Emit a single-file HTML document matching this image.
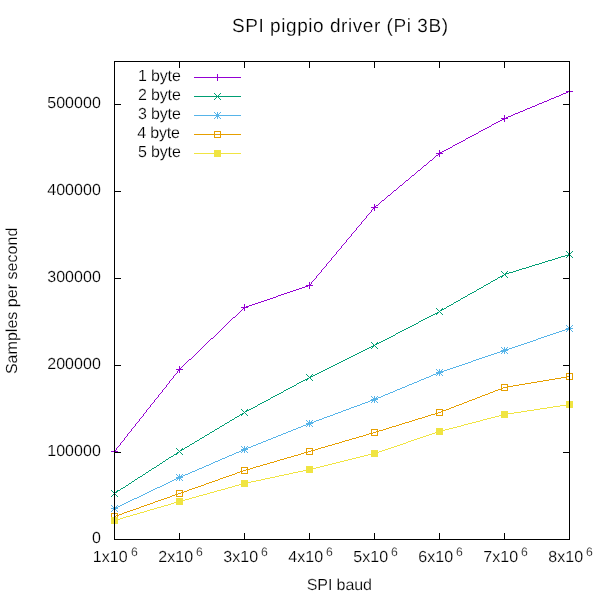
<!DOCTYPE html>
<html lang="en"><head><meta charset="utf-8"><title>SPI pigpio driver (Pi 3B)</title>
<style>
html,body{margin:0;padding:0;background:#fff;width:600px;height:600px;overflow:hidden}
svg{display:block}
text{font-family:"Liberation Sans",sans-serif;fill:#000;font-size:16px;text-rendering:geometricPrecision;stroke:#fff;stroke-width:0.18px}
.d{letter-spacing:0.07px}
.l{letter-spacing:0}
.t{font-size:19px}
.s{font-size:12.2px}
</style></head><body>
<svg width="600" height="600" viewBox="0 0 600 600">
<rect width="600" height="600" fill="#fff"/>
<text class="t" x="232" y="31.6" textLength="216" lengthAdjust="spacing">SPI pigpio driver (Pi 3B)</text>
<text x="306.7" y="590" textLength="65.3" lengthAdjust="spacing">SPI baud</text>
<text transform="translate(17,374.1) rotate(-90)" textLength="146.4" lengthAdjust="spacing">Samples per second</text>
<text class="d" x="101" y="543" text-anchor="end">0</text>
<text class="d" x="101" y="456" text-anchor="end">100000</text>
<text class="d" x="101" y="369" text-anchor="end">200000</text>
<text class="d" x="101" y="282" text-anchor="end">300000</text>
<text class="d" x="101" y="195" text-anchor="end">400000</text>
<text class="d" x="101" y="108" text-anchor="end">500000</text>
<text class="d" x="92.8" y="562">1x10</text><text class="s" x="131" y="556">6</text>
<text class="d" x="158.2" y="562">2x10</text><text class="s" x="196" y="556">6</text>
<text class="d" x="223.2" y="562">3x10</text><text class="s" x="261" y="556">6</text>
<text class="d" x="288.2" y="562">4x10</text><text class="s" x="326" y="556">6</text>
<text class="d" x="353.2" y="562">5x10</text><text class="s" x="391" y="556">6</text>
<text class="d" x="418.2" y="562">6x10</text><text class="s" x="456" y="556">6</text>
<text class="d" x="483.2" y="562">7x10</text><text class="s" x="521" y="556">6</text>
<text class="d" x="548.2" y="562">8x10</text><text class="s" x="586" y="556">6</text>
<g shape-rendering="crispEdges">
<text class="l" x="138" y="81" textLength="42.8" lengthAdjust="spacing">1 byte</text>
<rect x="194" y="77" width="47" height="1" fill="#9400D3"/><rect x="214" y="77" width="7" height="1" fill="#9400D3"/><rect x="217" y="74" width="1" height="7" fill="#9400D3"/>
<path d="M568 91h2v1h-2zM566 92h2v1h-2zM563 93h3v1h-3zM561 94h2v1h-2zM559 95h2v1h-2zM556 96h3v1h-3zM554 97h2v1h-2zM551 98h3v1h-3zM549 99h2v1h-2zM547 100h2v1h-2zM544 101h3v1h-3zM542 102h2v1h-2zM539 103h3v1h-3zM537 104h2v1h-2zM535 105h2v1h-2zM532 106h3v1h-3zM530 107h2v1h-2zM527 108h3v1h-3zM525 109h2v1h-2zM523 110h2v1h-2zM520 111h3v1h-3zM518 112h2v1h-2zM515 113h3v1h-3zM513 114h2v1h-2zM511 115h2v1h-2zM508 116h3v1h-3zM506 117h2v1h-2zM504 118h2v1h-2zM502 119h2v1h-2zM500 120h2v1h-2zM498 121h2v1h-2zM496 122h2v1h-2zM494 123h2v1h-2zM492 124h2v1h-2zM491 125h1v1h-1zM489 126h2v1h-2zM487 127h2v1h-2zM485 128h2v1h-2zM483 129h2v1h-2zM481 130h2v1h-2zM479 131h2v1h-2zM478 132h1v1h-1zM476 133h2v1h-2zM474 134h2v1h-2zM472 135h2v1h-2zM470 136h2v1h-2zM468 137h2v1h-2zM466 138h2v1h-2zM465 139h1v1h-1zM463 140h2v1h-2zM461 141h2v1h-2zM459 142h2v1h-2zM457 143h2v1h-2zM455 144h2v1h-2zM453 145h2v1h-2zM452 146h1v1h-1zM450 147h2v1h-2zM448 148h2v1h-2zM446 149h2v1h-2zM444 150h2v1h-2zM442 151h2v1h-2zM440 152h2v1h-2zM439 153h1v1h-1zM438 154h1v1h-1zM436 155h2v1h-2zM435 156h1v1h-1zM434 157h1v1h-1zM433 158h1v1h-1zM432 159h1v1h-1zM430 160h2v1h-2zM429 161h1v1h-1zM428 162h1v1h-1zM427 163h1v1h-1zM426 164h1v1h-1zM424 165h2v1h-2zM423 166h1v1h-1zM422 167h1v1h-1zM421 168h1v1h-1zM420 169h1v1h-1zM418 170h2v1h-2zM417 171h1v1h-1zM416 172h1v1h-1zM415 173h1v1h-1zM414 174h1v1h-1zM412 175h2v1h-2zM411 176h1v1h-1zM410 177h1v1h-1zM409 178h1v1h-1zM408 179h1v1h-1zM406 180h2v1h-2zM405 181h1v1h-1zM404 182h1v1h-1zM403 183h1v1h-1zM402 184h1v1h-1zM400 185h2v1h-2zM399 186h1v1h-1zM398 187h1v1h-1zM397 188h1v1h-1zM396 189h1v1h-1zM394 190h2v1h-2zM393 191h1v1h-1zM392 192h1v1h-1zM391 193h1v1h-1zM390 194h1v1h-1zM388 195h2v1h-2zM387 196h1v1h-1zM386 197h1v1h-1zM385 198h1v1h-1zM384 199h1v1h-1zM382 200h2v1h-2zM381 201h1v1h-1zM380 202h1v1h-1zM379 203h1v1h-1zM378 204h1v1h-1zM376 205h2v1h-2zM375 206h1v1h-1zM374 207h1v1h-1zM373 208h1v1h-1zM372 209h1v1h-1zM371 210h1v2h-1zM370 212h1v1h-1zM369 213h1v1h-1zM368 214h1v1h-1zM367 215h1v1h-1zM366 216h1v2h-1zM365 218h1v1h-1zM364 219h1v1h-1zM363 220h1v1h-1zM362 221h1v1h-1zM361 222h1v2h-1zM360 224h1v1h-1zM359 225h1v1h-1zM358 226h1v1h-1zM357 227h1v1h-1zM356 228h1v2h-1zM355 230h1v1h-1zM354 231h1v1h-1zM353 232h1v1h-1zM352 233h1v1h-1zM351 234h1v2h-1zM350 236h1v1h-1zM349 237h1v1h-1zM348 238h1v1h-1zM347 239h1v1h-1zM346 240h1v2h-1zM345 242h1v1h-1zM344 243h1v1h-1zM343 244h1v1h-1zM342 245h1v1h-1zM341 246h1v2h-1zM340 248h1v1h-1zM339 249h1v1h-1zM338 250h1v1h-1zM337 251h1v1h-1zM336 252h1v2h-1zM335 254h1v1h-1zM334 255h1v1h-1zM333 256h1v1h-1zM332 257h1v1h-1zM331 258h1v2h-1zM330 260h1v1h-1zM329 261h1v1h-1zM328 262h1v1h-1zM327 263h1v1h-1zM326 264h1v2h-1zM325 266h1v1h-1zM324 267h1v1h-1zM323 268h1v1h-1zM322 269h1v1h-1zM321 270h1v2h-1zM320 272h1v1h-1zM319 273h1v1h-1zM318 274h1v1h-1zM317 275h1v1h-1zM316 276h1v2h-1zM315 278h1v1h-1zM314 279h1v1h-1zM313 280h1v1h-1zM312 281h1v1h-1zM311 282h1v2h-1zM310 284h1v1h-1zM308 285h2v1h-2zM305 286h3v1h-3zM302 287h3v1h-3zM299 288h3v1h-3zM296 289h3v1h-3zM293 290h3v1h-3zM290 291h3v1h-3zM287 292h3v1h-3zM284 293h3v1h-3zM281 294h3v1h-3zM278 295h3v1h-3zM276 296h2v1h-2zM273 297h3v1h-3zM270 298h3v1h-3zM267 299h3v1h-3zM264 300h3v1h-3zM261 301h3v1h-3zM258 302h3v1h-3zM255 303h3v1h-3zM252 304h3v1h-3zM249 305h3v1h-3zM246 306h3v1h-3zM244 307h2v1h-2zM243 308h1v1h-1zM242 309h1v1h-1zM241 310h1v1h-1zM240 311h1v1h-1zM239 312h1v1h-1zM238 313h1v1h-1zM237 314h1v1h-1zM236 315h1v1h-1zM235 316h1v1h-1zM233 317h2v1h-2zM232 318h1v1h-1zM231 319h1v1h-1zM230 320h1v1h-1zM229 321h1v1h-1zM228 322h1v1h-1zM227 323h1v1h-1zM226 324h1v1h-1zM225 325h1v1h-1zM224 326h1v1h-1zM223 327h1v1h-1zM222 328h1v1h-1zM221 329h1v1h-1zM220 330h1v1h-1zM219 331h1v1h-1zM218 332h1v1h-1zM217 333h1v1h-1zM216 334h1v1h-1zM215 335h1v1h-1zM214 336h1v1h-1zM213 337h1v1h-1zM211 338h2v1h-2zM210 339h1v1h-1zM209 340h1v1h-1zM208 341h1v1h-1zM207 342h1v1h-1zM206 343h1v1h-1zM205 344h1v1h-1zM204 345h1v1h-1zM203 346h1v1h-1zM202 347h1v1h-1zM201 348h1v1h-1zM200 349h1v1h-1zM199 350h1v1h-1zM198 351h1v1h-1zM197 352h1v1h-1zM196 353h1v1h-1zM195 354h1v1h-1zM194 355h1v1h-1zM193 356h1v1h-1zM192 357h1v1h-1zM191 358h1v1h-1zM189 359h2v1h-2zM188 360h1v1h-1zM187 361h1v1h-1zM186 362h1v1h-1zM185 363h1v1h-1zM184 364h1v1h-1zM183 365h1v1h-1zM182 366h1v1h-1zM181 367h1v1h-1zM180 368h1v1h-1zM179 369h1v1h-1zM178 370h1v1h-1zM177 371h1v2h-1zM176 373h1v1h-1zM175 374h1v1h-1zM174 375h1v1h-1zM173 376h1v2h-1zM172 378h1v1h-1zM171 379h1v1h-1zM170 380h1v1h-1zM169 381h1v2h-1zM168 383h1v1h-1zM167 384h1v1h-1zM166 385h1v2h-1zM165 387h1v1h-1zM164 388h1v1h-1zM163 389h1v1h-1zM162 390h1v2h-1zM161 392h1v1h-1zM160 393h1v1h-1zM159 394h1v1h-1zM158 395h1v2h-1zM157 397h1v1h-1zM156 398h1v1h-1zM155 399h1v1h-1zM154 400h1v2h-1zM153 402h1v1h-1zM152 403h1v1h-1zM151 404h1v1h-1zM150 405h1v2h-1zM149 407h1v1h-1zM148 408h1v1h-1zM147 409h1v1h-1zM146 410h1v2h-1zM145 412h1v1h-1zM144 413h1v1h-1zM143 414h1v2h-1zM142 416h1v1h-1zM141 417h1v1h-1zM140 418h1v1h-1zM139 419h1v2h-1zM138 421h1v1h-1zM137 422h1v1h-1zM136 423h1v1h-1zM135 424h1v2h-1zM134 426h1v1h-1zM133 427h1v1h-1zM132 428h1v1h-1zM131 429h1v2h-1zM130 431h1v1h-1zM129 432h1v1h-1zM128 433h1v1h-1zM127 434h1v2h-1zM126 436h1v1h-1zM125 437h1v1h-1zM124 438h1v2h-1zM123 440h1v1h-1zM122 441h1v1h-1zM121 442h1v1h-1zM120 443h1v2h-1zM119 445h1v1h-1zM118 446h1v1h-1zM117 447h1v1h-1zM116 448h1v2h-1zM115 450h1v1h-1zM114 451h1v1h-1z" fill="#9400D3"/>
<rect x="111" y="451" width="7" height="1" fill="#9400D3"/><rect x="114" y="448" width="1" height="7" fill="#9400D3"/><rect x="176" y="369" width="7" height="1" fill="#9400D3"/><rect x="179" y="366" width="1" height="7" fill="#9400D3"/><rect x="241" y="307" width="7" height="1" fill="#9400D3"/><rect x="244" y="304" width="1" height="7" fill="#9400D3"/><rect x="306" y="285" width="7" height="1" fill="#9400D3"/><rect x="309" y="282" width="1" height="7" fill="#9400D3"/><rect x="371" y="207" width="7" height="1" fill="#9400D3"/><rect x="374" y="204" width="1" height="7" fill="#9400D3"/><rect x="436" y="153" width="7" height="1" fill="#9400D3"/><rect x="439" y="150" width="1" height="7" fill="#9400D3"/><rect x="501" y="118" width="7" height="1" fill="#9400D3"/><rect x="504" y="115" width="1" height="7" fill="#9400D3"/><rect x="566" y="91" width="7" height="1" fill="#9400D3"/><rect x="569" y="88" width="1" height="7" fill="#9400D3"/>
<text class="l" x="138" y="100" textLength="42.8" lengthAdjust="spacing">2 byte</text>
<rect x="194" y="96" width="47" height="1" fill="#009E73"/><rect x="214" y="93" width="1" height="1" fill="#009E73"/><rect x="214" y="99" width="1" height="1" fill="#009E73"/><rect x="215" y="94" width="1" height="1" fill="#009E73"/><rect x="215" y="98" width="1" height="1" fill="#009E73"/><rect x="216" y="95" width="1" height="1" fill="#009E73"/><rect x="216" y="97" width="1" height="1" fill="#009E73"/><rect x="217" y="96" width="1" height="1" fill="#009E73"/><rect x="218" y="97" width="1" height="1" fill="#009E73"/><rect x="218" y="95" width="1" height="1" fill="#009E73"/><rect x="219" y="98" width="1" height="1" fill="#009E73"/><rect x="219" y="94" width="1" height="1" fill="#009E73"/><rect x="220" y="99" width="1" height="1" fill="#009E73"/><rect x="220" y="93" width="1" height="1" fill="#009E73"/>
<path d="M568 254h2v1h-2zM565 255h3v1h-3zM561 256h4v1h-4zM558 257h3v1h-3zM555 258h3v1h-3zM552 259h3v1h-3zM548 260h4v1h-4zM545 261h3v1h-3zM542 262h3v1h-3zM539 263h3v1h-3zM535 264h4v1h-4zM532 265h3v1h-3zM529 266h3v1h-3zM526 267h3v1h-3zM522 268h4v1h-4zM519 269h3v1h-3zM516 270h3v1h-3zM513 271h3v1h-3zM509 272h4v1h-4zM506 273h3v1h-3zM504 274h2v1h-2zM502 275h2v1h-2zM500 276h2v1h-2zM498 277h2v1h-2zM497 278h1v1h-1zM495 279h2v1h-2zM493 280h2v1h-2zM491 281h2v1h-2zM490 282h1v1h-1zM488 283h2v1h-2zM486 284h2v1h-2zM484 285h2v1h-2zM483 286h1v1h-1zM481 287h2v1h-2zM479 288h2v1h-2zM477 289h2v1h-2zM476 290h1v1h-1zM474 291h2v1h-2zM472 292h2v1h-2zM470 293h2v1h-2zM468 294h2v1h-2zM467 295h1v1h-1zM465 296h2v1h-2zM463 297h2v1h-2zM461 298h2v1h-2zM460 299h1v1h-1zM458 300h2v1h-2zM456 301h2v1h-2zM454 302h2v1h-2zM453 303h1v1h-1zM451 304h2v1h-2zM449 305h2v1h-2zM447 306h2v1h-2zM446 307h1v1h-1zM444 308h2v1h-2zM442 309h2v1h-2zM440 310h2v1h-2zM439 311h1v1h-1zM437 312h2v1h-2zM435 313h2v1h-2zM433 314h2v1h-2zM431 315h2v1h-2zM429 316h2v1h-2zM427 317h2v1h-2zM425 318h2v1h-2zM423 319h2v1h-2zM421 320h2v1h-2zM419 321h2v1h-2zM418 322h1v1h-1zM416 323h2v1h-2zM414 324h2v1h-2zM412 325h2v1h-2zM410 326h2v1h-2zM408 327h2v1h-2zM406 328h2v1h-2zM404 329h2v1h-2zM402 330h2v1h-2zM400 331h2v1h-2zM398 332h2v1h-2zM396 333h2v1h-2zM395 334h1v1h-1zM393 335h2v1h-2zM391 336h2v1h-2zM389 337h2v1h-2zM387 338h2v1h-2zM385 339h2v1h-2zM383 340h2v1h-2zM381 341h2v1h-2zM379 342h2v1h-2zM377 343h2v1h-2zM375 344h2v1h-2zM373 345h2v1h-2zM371 346h2v1h-2zM369 347h2v1h-2zM367 348h2v1h-2zM365 349h2v1h-2zM363 350h2v1h-2zM361 351h2v1h-2zM359 352h2v1h-2zM357 353h2v1h-2zM355 354h2v1h-2zM353 355h2v1h-2zM351 356h2v1h-2zM349 357h2v1h-2zM347 358h2v1h-2zM345 359h2v1h-2zM343 360h2v1h-2zM341 361h2v1h-2zM339 362h2v1h-2zM337 363h2v1h-2zM335 364h2v1h-2zM333 365h2v1h-2zM331 366h2v1h-2zM329 367h2v1h-2zM327 368h2v1h-2zM325 369h2v1h-2zM323 370h2v1h-2zM321 371h2v1h-2zM319 372h2v1h-2zM317 373h2v1h-2zM315 374h2v1h-2zM313 375h2v1h-2zM311 376h2v1h-2zM309 377h2v1h-2zM307 378h2v1h-2zM305 379h2v1h-2zM303 380h2v1h-2zM301 381h2v1h-2zM299 382h2v1h-2zM297 383h2v1h-2zM296 384h1v1h-1zM294 385h2v1h-2zM292 386h2v1h-2zM290 387h2v1h-2zM288 388h2v1h-2zM286 389h2v1h-2zM284 390h2v1h-2zM283 391h1v1h-1zM281 392h2v1h-2zM279 393h2v1h-2zM277 394h2v1h-2zM275 395h2v1h-2zM273 396h2v1h-2zM271 397h2v1h-2zM270 398h1v1h-1zM268 399h2v1h-2zM266 400h2v1h-2zM264 401h2v1h-2zM262 402h2v1h-2zM260 403h2v1h-2zM258 404h2v1h-2zM257 405h1v1h-1zM255 406h2v1h-2zM253 407h2v1h-2zM251 408h2v1h-2zM249 409h2v1h-2zM247 410h2v1h-2zM245 411h2v1h-2zM244 412h1v1h-1zM242 413h2v1h-2zM240 414h2v1h-2zM239 415h1v1h-1zM237 416h2v1h-2zM235 417h2v1h-2zM234 418h1v1h-1zM232 419h2v1h-2zM230 420h2v1h-2zM229 421h1v1h-1zM227 422h2v1h-2zM225 423h2v1h-2zM224 424h1v1h-1zM222 425h2v1h-2zM220 426h2v1h-2zM219 427h1v1h-1zM217 428h2v1h-2zM215 429h2v1h-2zM214 430h1v1h-1zM212 431h2v1h-2zM210 432h2v1h-2zM209 433h1v1h-1zM207 434h2v1h-2zM205 435h2v1h-2zM204 436h1v1h-1zM202 437h2v1h-2zM200 438h2v1h-2zM199 439h1v1h-1zM197 440h2v1h-2zM195 441h2v1h-2zM194 442h1v1h-1zM192 443h2v1h-2zM190 444h2v1h-2zM189 445h1v1h-1zM187 446h2v1h-2zM185 447h2v1h-2zM184 448h1v1h-1zM182 449h2v1h-2zM180 450h2v1h-2zM179 451h1v1h-1zM177 452h2v1h-2zM176 453h1v1h-1zM174 454h2v1h-2zM173 455h1v1h-1zM171 456h2v1h-2zM169 457h2v1h-2zM168 458h1v1h-1zM166 459h2v1h-2zM165 460h1v1h-1zM163 461h2v1h-2zM162 462h1v1h-1zM160 463h2v1h-2zM159 464h1v1h-1zM157 465h2v1h-2zM156 466h1v1h-1zM154 467h2v1h-2zM152 468h2v1h-2zM151 469h1v1h-1zM149 470h2v1h-2zM148 471h1v1h-1zM146 472h2v1h-2zM145 473h1v1h-1zM143 474h2v1h-2zM142 475h1v1h-1zM140 476h2v1h-2zM138 477h2v1h-2zM137 478h1v1h-1zM135 479h2v1h-2zM134 480h1v1h-1zM132 481h2v1h-2zM131 482h1v1h-1zM129 483h2v1h-2zM128 484h1v1h-1zM126 485h2v1h-2zM125 486h1v1h-1zM123 487h2v1h-2zM121 488h2v1h-2zM120 489h1v1h-1zM118 490h2v1h-2zM117 491h1v1h-1zM115 492h2v1h-2zM114 493h1v1h-1z" fill="#009E73"/>
<rect x="111" y="490" width="1" height="1" fill="#009E73"/><rect x="111" y="496" width="1" height="1" fill="#009E73"/><rect x="112" y="491" width="1" height="1" fill="#009E73"/><rect x="112" y="495" width="1" height="1" fill="#009E73"/><rect x="113" y="492" width="1" height="1" fill="#009E73"/><rect x="113" y="494" width="1" height="1" fill="#009E73"/><rect x="114" y="493" width="1" height="1" fill="#009E73"/><rect x="115" y="494" width="1" height="1" fill="#009E73"/><rect x="115" y="492" width="1" height="1" fill="#009E73"/><rect x="116" y="495" width="1" height="1" fill="#009E73"/><rect x="116" y="491" width="1" height="1" fill="#009E73"/><rect x="117" y="496" width="1" height="1" fill="#009E73"/><rect x="117" y="490" width="1" height="1" fill="#009E73"/><rect x="176" y="448" width="1" height="1" fill="#009E73"/><rect x="176" y="454" width="1" height="1" fill="#009E73"/><rect x="177" y="449" width="1" height="1" fill="#009E73"/><rect x="177" y="453" width="1" height="1" fill="#009E73"/><rect x="178" y="450" width="1" height="1" fill="#009E73"/><rect x="178" y="452" width="1" height="1" fill="#009E73"/><rect x="179" y="451" width="1" height="1" fill="#009E73"/><rect x="180" y="452" width="1" height="1" fill="#009E73"/><rect x="180" y="450" width="1" height="1" fill="#009E73"/><rect x="181" y="453" width="1" height="1" fill="#009E73"/><rect x="181" y="449" width="1" height="1" fill="#009E73"/><rect x="182" y="454" width="1" height="1" fill="#009E73"/><rect x="182" y="448" width="1" height="1" fill="#009E73"/><rect x="241" y="409" width="1" height="1" fill="#009E73"/><rect x="241" y="415" width="1" height="1" fill="#009E73"/><rect x="242" y="410" width="1" height="1" fill="#009E73"/><rect x="242" y="414" width="1" height="1" fill="#009E73"/><rect x="243" y="411" width="1" height="1" fill="#009E73"/><rect x="243" y="413" width="1" height="1" fill="#009E73"/><rect x="244" y="412" width="1" height="1" fill="#009E73"/><rect x="245" y="413" width="1" height="1" fill="#009E73"/><rect x="245" y="411" width="1" height="1" fill="#009E73"/><rect x="246" y="414" width="1" height="1" fill="#009E73"/><rect x="246" y="410" width="1" height="1" fill="#009E73"/><rect x="247" y="415" width="1" height="1" fill="#009E73"/><rect x="247" y="409" width="1" height="1" fill="#009E73"/><rect x="306" y="374" width="1" height="1" fill="#009E73"/><rect x="306" y="380" width="1" height="1" fill="#009E73"/><rect x="307" y="375" width="1" height="1" fill="#009E73"/><rect x="307" y="379" width="1" height="1" fill="#009E73"/><rect x="308" y="376" width="1" height="1" fill="#009E73"/><rect x="308" y="378" width="1" height="1" fill="#009E73"/><rect x="309" y="377" width="1" height="1" fill="#009E73"/><rect x="310" y="378" width="1" height="1" fill="#009E73"/><rect x="310" y="376" width="1" height="1" fill="#009E73"/><rect x="311" y="379" width="1" height="1" fill="#009E73"/><rect x="311" y="375" width="1" height="1" fill="#009E73"/><rect x="312" y="380" width="1" height="1" fill="#009E73"/><rect x="312" y="374" width="1" height="1" fill="#009E73"/><rect x="371" y="342" width="1" height="1" fill="#009E73"/><rect x="371" y="348" width="1" height="1" fill="#009E73"/><rect x="372" y="343" width="1" height="1" fill="#009E73"/><rect x="372" y="347" width="1" height="1" fill="#009E73"/><rect x="373" y="344" width="1" height="1" fill="#009E73"/><rect x="373" y="346" width="1" height="1" fill="#009E73"/><rect x="374" y="345" width="1" height="1" fill="#009E73"/><rect x="375" y="346" width="1" height="1" fill="#009E73"/><rect x="375" y="344" width="1" height="1" fill="#009E73"/><rect x="376" y="347" width="1" height="1" fill="#009E73"/><rect x="376" y="343" width="1" height="1" fill="#009E73"/><rect x="377" y="348" width="1" height="1" fill="#009E73"/><rect x="377" y="342" width="1" height="1" fill="#009E73"/><rect x="436" y="308" width="1" height="1" fill="#009E73"/><rect x="436" y="314" width="1" height="1" fill="#009E73"/><rect x="437" y="309" width="1" height="1" fill="#009E73"/><rect x="437" y="313" width="1" height="1" fill="#009E73"/><rect x="438" y="310" width="1" height="1" fill="#009E73"/><rect x="438" y="312" width="1" height="1" fill="#009E73"/><rect x="439" y="311" width="1" height="1" fill="#009E73"/><rect x="440" y="312" width="1" height="1" fill="#009E73"/><rect x="440" y="310" width="1" height="1" fill="#009E73"/><rect x="441" y="313" width="1" height="1" fill="#009E73"/><rect x="441" y="309" width="1" height="1" fill="#009E73"/><rect x="442" y="314" width="1" height="1" fill="#009E73"/><rect x="442" y="308" width="1" height="1" fill="#009E73"/><rect x="501" y="271" width="1" height="1" fill="#009E73"/><rect x="501" y="277" width="1" height="1" fill="#009E73"/><rect x="502" y="272" width="1" height="1" fill="#009E73"/><rect x="502" y="276" width="1" height="1" fill="#009E73"/><rect x="503" y="273" width="1" height="1" fill="#009E73"/><rect x="503" y="275" width="1" height="1" fill="#009E73"/><rect x="504" y="274" width="1" height="1" fill="#009E73"/><rect x="505" y="275" width="1" height="1" fill="#009E73"/><rect x="505" y="273" width="1" height="1" fill="#009E73"/><rect x="506" y="276" width="1" height="1" fill="#009E73"/><rect x="506" y="272" width="1" height="1" fill="#009E73"/><rect x="507" y="277" width="1" height="1" fill="#009E73"/><rect x="507" y="271" width="1" height="1" fill="#009E73"/><rect x="566" y="251" width="1" height="1" fill="#009E73"/><rect x="566" y="257" width="1" height="1" fill="#009E73"/><rect x="567" y="252" width="1" height="1" fill="#009E73"/><rect x="567" y="256" width="1" height="1" fill="#009E73"/><rect x="568" y="253" width="1" height="1" fill="#009E73"/><rect x="568" y="255" width="1" height="1" fill="#009E73"/><rect x="569" y="254" width="1" height="1" fill="#009E73"/><rect x="570" y="255" width="1" height="1" fill="#009E73"/><rect x="570" y="253" width="1" height="1" fill="#009E73"/><rect x="571" y="256" width="1" height="1" fill="#009E73"/><rect x="571" y="252" width="1" height="1" fill="#009E73"/><rect x="572" y="257" width="1" height="1" fill="#009E73"/><rect x="572" y="251" width="1" height="1" fill="#009E73"/>
<text class="l" x="138" y="119" textLength="42.8" lengthAdjust="spacing">3 byte</text>
<rect x="194" y="115" width="47" height="1" fill="#56B4E9"/><rect x="214" y="115" width="7" height="1" fill="#56B4E9"/><rect x="217" y="112" width="1" height="7" fill="#56B4E9"/><rect x="214" y="112" width="1" height="1" fill="#56B4E9"/><rect x="214" y="118" width="1" height="1" fill="#56B4E9"/><rect x="215" y="113" width="1" height="1" fill="#56B4E9"/><rect x="215" y="117" width="1" height="1" fill="#56B4E9"/><rect x="216" y="114" width="1" height="1" fill="#56B4E9"/><rect x="216" y="116" width="1" height="1" fill="#56B4E9"/><rect x="218" y="116" width="1" height="1" fill="#56B4E9"/><rect x="218" y="114" width="1" height="1" fill="#56B4E9"/><rect x="219" y="117" width="1" height="1" fill="#56B4E9"/><rect x="219" y="113" width="1" height="1" fill="#56B4E9"/><rect x="220" y="118" width="1" height="1" fill="#56B4E9"/><rect x="220" y="112" width="1" height="1" fill="#56B4E9"/>
<path d="M568 328h2v1h-2zM565 329h3v1h-3zM562 330h3v1h-3zM559 331h3v1h-3zM556 332h3v1h-3zM553 333h3v1h-3zM550 334h3v1h-3zM547 335h3v1h-3zM544 336h3v1h-3zM541 337h3v1h-3zM538 338h3v1h-3zM536 339h2v1h-2zM533 340h3v1h-3zM530 341h3v1h-3zM527 342h3v1h-3zM524 343h3v1h-3zM521 344h3v1h-3zM518 345h3v1h-3zM515 346h3v1h-3zM512 347h3v1h-3zM509 348h3v1h-3zM506 349h3v1h-3zM503 350h3v1h-3zM500 351h3v1h-3zM497 352h3v1h-3zM494 353h3v1h-3zM491 354h3v1h-3zM488 355h3v1h-3zM485 356h3v1h-3zM482 357h3v1h-3zM479 358h3v1h-3zM476 359h3v1h-3zM473 360h3v1h-3zM471 361h2v1h-2zM468 362h3v1h-3zM465 363h3v1h-3zM462 364h3v1h-3zM459 365h3v1h-3zM456 366h3v1h-3zM453 367h3v1h-3zM450 368h3v1h-3zM447 369h3v1h-3zM444 370h3v1h-3zM441 371h3v1h-3zM438 372h3v1h-3zM436 373h2v1h-2zM433 374h3v1h-3zM431 375h2v1h-2zM429 376h2v1h-2zM426 377h3v1h-3zM424 378h2v1h-2zM421 379h3v1h-3zM419 380h2v1h-2zM417 381h2v1h-2zM414 382h3v1h-3zM412 383h2v1h-2zM409 384h3v1h-3zM407 385h2v1h-2zM405 386h2v1h-2zM402 387h3v1h-3zM400 388h2v1h-2zM397 389h3v1h-3zM395 390h2v1h-2zM393 391h2v1h-2zM390 392h3v1h-3zM388 393h2v1h-2zM385 394h3v1h-3zM383 395h2v1h-2zM381 396h2v1h-2zM378 397h3v1h-3zM376 398h2v1h-2zM373 399h3v1h-3zM370 400h3v1h-3zM368 401h2v1h-2zM365 402h3v1h-3zM362 403h3v1h-3zM360 404h2v1h-2zM357 405h3v1h-3zM354 406h3v1h-3zM351 407h3v1h-3zM349 408h2v1h-2zM346 409h3v1h-3zM343 410h3v1h-3zM341 411h2v1h-2zM338 412h3v1h-3zM335 413h3v1h-3zM333 414h2v1h-2zM330 415h3v1h-3zM327 416h3v1h-3zM324 417h3v1h-3zM322 418h2v1h-2zM319 419h3v1h-3zM316 420h3v1h-3zM314 421h2v1h-2zM311 422h3v1h-3zM308 423h3v1h-3zM306 424h2v1h-2zM303 425h3v1h-3zM301 426h2v1h-2zM298 427h3v1h-3zM296 428h2v1h-2zM293 429h3v1h-3zM291 430h2v1h-2zM288 431h3v1h-3zM286 432h2v1h-2zM283 433h3v1h-3zM281 434h2v1h-2zM278 435h3v1h-3zM276 436h2v1h-2zM273 437h3v1h-3zM271 438h2v1h-2zM268 439h3v1h-3zM266 440h2v1h-2zM263 441h3v1h-3zM261 442h2v1h-2zM258 443h3v1h-3zM256 444h2v1h-2zM253 445h3v1h-3zM251 446h2v1h-2zM248 447h3v1h-3zM246 448h2v1h-2zM243 449h3v1h-3zM241 450h2v1h-2zM239 451h2v1h-2zM236 452h3v1h-3zM234 453h2v1h-2zM232 454h2v1h-2zM229 455h3v1h-3zM227 456h2v1h-2zM225 457h2v1h-2zM222 458h3v1h-3zM220 459h2v1h-2zM218 460h2v1h-2zM215 461h3v1h-3zM213 462h2v1h-2zM211 463h2v1h-2zM209 464h2v1h-2zM206 465h3v1h-3zM204 466h2v1h-2zM202 467h2v1h-2zM199 468h3v1h-3zM197 469h2v1h-2zM195 470h2v1h-2zM192 471h3v1h-3zM190 472h2v1h-2zM188 473h2v1h-2zM185 474h3v1h-3zM183 475h2v1h-2zM181 476h2v1h-2zM178 477h3v1h-3zM176 478h2v1h-2zM174 479h2v1h-2zM172 480h2v1h-2zM170 481h2v1h-2zM168 482h2v1h-2zM166 483h2v1h-2zM164 484h2v1h-2zM162 485h2v1h-2zM160 486h2v1h-2zM157 487h3v1h-3zM155 488h2v1h-2zM153 489h2v1h-2zM151 490h2v1h-2zM149 491h2v1h-2zM147 492h2v1h-2zM145 493h2v1h-2zM143 494h2v1h-2zM141 495h2v1h-2zM139 496h2v1h-2zM137 497h2v1h-2zM134 498h3v1h-3zM132 499h2v1h-2zM130 500h2v1h-2zM128 501h2v1h-2zM126 502h2v1h-2zM124 503h2v1h-2zM122 504h2v1h-2zM120 505h2v1h-2zM118 506h2v1h-2zM116 507h2v1h-2zM114 508h2v1h-2z" fill="#56B4E9"/>
<rect x="111" y="508" width="7" height="1" fill="#56B4E9"/><rect x="114" y="505" width="1" height="7" fill="#56B4E9"/><rect x="111" y="505" width="1" height="1" fill="#56B4E9"/><rect x="111" y="511" width="1" height="1" fill="#56B4E9"/><rect x="112" y="506" width="1" height="1" fill="#56B4E9"/><rect x="112" y="510" width="1" height="1" fill="#56B4E9"/><rect x="113" y="507" width="1" height="1" fill="#56B4E9"/><rect x="113" y="509" width="1" height="1" fill="#56B4E9"/><rect x="115" y="509" width="1" height="1" fill="#56B4E9"/><rect x="115" y="507" width="1" height="1" fill="#56B4E9"/><rect x="116" y="510" width="1" height="1" fill="#56B4E9"/><rect x="116" y="506" width="1" height="1" fill="#56B4E9"/><rect x="117" y="511" width="1" height="1" fill="#56B4E9"/><rect x="117" y="505" width="1" height="1" fill="#56B4E9"/><rect x="176" y="477" width="7" height="1" fill="#56B4E9"/><rect x="179" y="474" width="1" height="7" fill="#56B4E9"/><rect x="176" y="474" width="1" height="1" fill="#56B4E9"/><rect x="176" y="480" width="1" height="1" fill="#56B4E9"/><rect x="177" y="475" width="1" height="1" fill="#56B4E9"/><rect x="177" y="479" width="1" height="1" fill="#56B4E9"/><rect x="178" y="476" width="1" height="1" fill="#56B4E9"/><rect x="178" y="478" width="1" height="1" fill="#56B4E9"/><rect x="180" y="478" width="1" height="1" fill="#56B4E9"/><rect x="180" y="476" width="1" height="1" fill="#56B4E9"/><rect x="181" y="479" width="1" height="1" fill="#56B4E9"/><rect x="181" y="475" width="1" height="1" fill="#56B4E9"/><rect x="182" y="480" width="1" height="1" fill="#56B4E9"/><rect x="182" y="474" width="1" height="1" fill="#56B4E9"/><rect x="241" y="449" width="7" height="1" fill="#56B4E9"/><rect x="244" y="446" width="1" height="7" fill="#56B4E9"/><rect x="241" y="446" width="1" height="1" fill="#56B4E9"/><rect x="241" y="452" width="1" height="1" fill="#56B4E9"/><rect x="242" y="447" width="1" height="1" fill="#56B4E9"/><rect x="242" y="451" width="1" height="1" fill="#56B4E9"/><rect x="243" y="448" width="1" height="1" fill="#56B4E9"/><rect x="243" y="450" width="1" height="1" fill="#56B4E9"/><rect x="245" y="450" width="1" height="1" fill="#56B4E9"/><rect x="245" y="448" width="1" height="1" fill="#56B4E9"/><rect x="246" y="451" width="1" height="1" fill="#56B4E9"/><rect x="246" y="447" width="1" height="1" fill="#56B4E9"/><rect x="247" y="452" width="1" height="1" fill="#56B4E9"/><rect x="247" y="446" width="1" height="1" fill="#56B4E9"/><rect x="306" y="423" width="7" height="1" fill="#56B4E9"/><rect x="309" y="420" width="1" height="7" fill="#56B4E9"/><rect x="306" y="420" width="1" height="1" fill="#56B4E9"/><rect x="306" y="426" width="1" height="1" fill="#56B4E9"/><rect x="307" y="421" width="1" height="1" fill="#56B4E9"/><rect x="307" y="425" width="1" height="1" fill="#56B4E9"/><rect x="308" y="422" width="1" height="1" fill="#56B4E9"/><rect x="308" y="424" width="1" height="1" fill="#56B4E9"/><rect x="310" y="424" width="1" height="1" fill="#56B4E9"/><rect x="310" y="422" width="1" height="1" fill="#56B4E9"/><rect x="311" y="425" width="1" height="1" fill="#56B4E9"/><rect x="311" y="421" width="1" height="1" fill="#56B4E9"/><rect x="312" y="426" width="1" height="1" fill="#56B4E9"/><rect x="312" y="420" width="1" height="1" fill="#56B4E9"/><rect x="371" y="399" width="7" height="1" fill="#56B4E9"/><rect x="374" y="396" width="1" height="7" fill="#56B4E9"/><rect x="371" y="396" width="1" height="1" fill="#56B4E9"/><rect x="371" y="402" width="1" height="1" fill="#56B4E9"/><rect x="372" y="397" width="1" height="1" fill="#56B4E9"/><rect x="372" y="401" width="1" height="1" fill="#56B4E9"/><rect x="373" y="398" width="1" height="1" fill="#56B4E9"/><rect x="373" y="400" width="1" height="1" fill="#56B4E9"/><rect x="375" y="400" width="1" height="1" fill="#56B4E9"/><rect x="375" y="398" width="1" height="1" fill="#56B4E9"/><rect x="376" y="401" width="1" height="1" fill="#56B4E9"/><rect x="376" y="397" width="1" height="1" fill="#56B4E9"/><rect x="377" y="402" width="1" height="1" fill="#56B4E9"/><rect x="377" y="396" width="1" height="1" fill="#56B4E9"/><rect x="436" y="372" width="7" height="1" fill="#56B4E9"/><rect x="439" y="369" width="1" height="7" fill="#56B4E9"/><rect x="436" y="369" width="1" height="1" fill="#56B4E9"/><rect x="436" y="375" width="1" height="1" fill="#56B4E9"/><rect x="437" y="370" width="1" height="1" fill="#56B4E9"/><rect x="437" y="374" width="1" height="1" fill="#56B4E9"/><rect x="438" y="371" width="1" height="1" fill="#56B4E9"/><rect x="438" y="373" width="1" height="1" fill="#56B4E9"/><rect x="440" y="373" width="1" height="1" fill="#56B4E9"/><rect x="440" y="371" width="1" height="1" fill="#56B4E9"/><rect x="441" y="374" width="1" height="1" fill="#56B4E9"/><rect x="441" y="370" width="1" height="1" fill="#56B4E9"/><rect x="442" y="375" width="1" height="1" fill="#56B4E9"/><rect x="442" y="369" width="1" height="1" fill="#56B4E9"/><rect x="501" y="350" width="7" height="1" fill="#56B4E9"/><rect x="504" y="347" width="1" height="7" fill="#56B4E9"/><rect x="501" y="347" width="1" height="1" fill="#56B4E9"/><rect x="501" y="353" width="1" height="1" fill="#56B4E9"/><rect x="502" y="348" width="1" height="1" fill="#56B4E9"/><rect x="502" y="352" width="1" height="1" fill="#56B4E9"/><rect x="503" y="349" width="1" height="1" fill="#56B4E9"/><rect x="503" y="351" width="1" height="1" fill="#56B4E9"/><rect x="505" y="351" width="1" height="1" fill="#56B4E9"/><rect x="505" y="349" width="1" height="1" fill="#56B4E9"/><rect x="506" y="352" width="1" height="1" fill="#56B4E9"/><rect x="506" y="348" width="1" height="1" fill="#56B4E9"/><rect x="507" y="353" width="1" height="1" fill="#56B4E9"/><rect x="507" y="347" width="1" height="1" fill="#56B4E9"/><rect x="566" y="328" width="7" height="1" fill="#56B4E9"/><rect x="569" y="325" width="1" height="7" fill="#56B4E9"/><rect x="566" y="325" width="1" height="1" fill="#56B4E9"/><rect x="566" y="331" width="1" height="1" fill="#56B4E9"/><rect x="567" y="326" width="1" height="1" fill="#56B4E9"/><rect x="567" y="330" width="1" height="1" fill="#56B4E9"/><rect x="568" y="327" width="1" height="1" fill="#56B4E9"/><rect x="568" y="329" width="1" height="1" fill="#56B4E9"/><rect x="570" y="329" width="1" height="1" fill="#56B4E9"/><rect x="570" y="327" width="1" height="1" fill="#56B4E9"/><rect x="571" y="330" width="1" height="1" fill="#56B4E9"/><rect x="571" y="326" width="1" height="1" fill="#56B4E9"/><rect x="572" y="331" width="1" height="1" fill="#56B4E9"/><rect x="572" y="325" width="1" height="1" fill="#56B4E9"/>
<text class="l" x="137.2" y="138" textLength="42.8" lengthAdjust="spacing">4 byte</text>
<rect x="194" y="134" width="47" height="1" fill="#E69F00"/><rect x="214" y="131" width="7" height="1" fill="#E69F00"/><rect x="214" y="137" width="7" height="1" fill="#E69F00"/><rect x="214" y="131" width="1" height="7" fill="#E69F00"/><rect x="220" y="131" width="1" height="7" fill="#E69F00"/>
<path d="M567 376h3v1h-3zM561 377h6v1h-6zM555 378h6v1h-6zM549 379h6v1h-6zM543 380h6v1h-6zM537 381h6v1h-6zM531 382h6v1h-6zM525 383h6v1h-6zM519 384h6v1h-6zM513 385h6v1h-6zM507 386h6v1h-6zM503 387h4v1h-4zM501 388h2v1h-2zM498 389h3v1h-3zM495 390h3v1h-3zM493 391h2v1h-2zM490 392h3v1h-3zM488 393h2v1h-2zM485 394h3v1h-3zM482 395h3v1h-3zM480 396h2v1h-2zM477 397h3v1h-3zM475 398h2v1h-2zM472 399h3v1h-3zM469 400h3v1h-3zM467 401h2v1h-2zM464 402h3v1h-3zM462 403h2v1h-2zM459 404h3v1h-3zM456 405h3v1h-3zM454 406h2v1h-2zM451 407h3v1h-3zM449 408h2v1h-2zM446 409h3v1h-3zM443 410h3v1h-3zM441 411h2v1h-2zM438 412h3v1h-3zM435 413h3v1h-3zM431 414h4v1h-4zM428 415h3v1h-3zM425 416h3v1h-3zM422 417h3v1h-3zM418 418h4v1h-4zM415 419h3v1h-3zM412 420h3v1h-3zM409 421h3v1h-3zM405 422h4v1h-4zM402 423h3v1h-3zM399 424h3v1h-3zM396 425h3v1h-3zM392 426h4v1h-4zM389 427h3v1h-3zM386 428h3v1h-3zM383 429h3v1h-3zM379 430h4v1h-4zM376 431h3v1h-3zM373 432h3v1h-3zM369 433h4v1h-4zM366 434h3v1h-3zM363 435h3v1h-3zM359 436h4v1h-4zM356 437h3v1h-3zM352 438h4v1h-4zM349 439h3v1h-3zM345 440h4v1h-4zM342 441h3v1h-3zM339 442h3v1h-3zM335 443h4v1h-4zM332 444h3v1h-3zM328 445h4v1h-4zM325 446h3v1h-3zM321 447h4v1h-4zM318 448h3v1h-3zM315 449h3v1h-3zM311 450h4v1h-4zM308 451h3v1h-3zM304 452h4v1h-4zM301 453h3v1h-3zM298 454h3v1h-3zM294 455h4v1h-4zM291 456h3v1h-3zM287 457h4v1h-4zM284 458h3v1h-3zM280 459h4v1h-4zM277 460h3v1h-3zM274 461h3v1h-3zM270 462h4v1h-4zM267 463h3v1h-3zM263 464h4v1h-4zM260 465h3v1h-3zM256 466h4v1h-4zM253 467h3v1h-3zM250 468h3v1h-3zM246 469h4v1h-4zM243 470h3v1h-3zM240 471h3v1h-3zM237 472h3v1h-3zM235 473h2v1h-2zM232 474h3v1h-3zM229 475h3v1h-3zM226 476h3v1h-3zM223 477h3v1h-3zM220 478h3v1h-3zM218 479h2v1h-2zM215 480h3v1h-3zM212 481h3v1h-3zM209 482h3v1h-3zM206 483h3v1h-3zM204 484h2v1h-2zM201 485h3v1h-3zM198 486h3v1h-3zM195 487h3v1h-3zM192 488h3v1h-3zM189 489h3v1h-3zM187 490h2v1h-2zM184 491h3v1h-3zM181 492h3v1h-3zM178 493h3v1h-3zM175 494h3v1h-3zM172 495h3v1h-3zM170 496h2v1h-2zM167 497h3v1h-3zM164 498h3v1h-3zM161 499h3v1h-3zM158 500h3v1h-3zM155 501h3v1h-3zM153 502h2v1h-2zM150 503h3v1h-3zM147 504h3v1h-3zM144 505h3v1h-3zM141 506h3v1h-3zM139 507h2v1h-2zM136 508h3v1h-3zM133 509h3v1h-3zM130 510h3v1h-3zM127 511h3v1h-3zM124 512h3v1h-3zM122 513h2v1h-2zM119 514h3v1h-3zM116 515h3v1h-3zM114 516h2v1h-2z" fill="#E69F00"/>
<rect x="111" y="513" width="7" height="1" fill="#E69F00"/><rect x="111" y="519" width="7" height="1" fill="#E69F00"/><rect x="111" y="513" width="1" height="7" fill="#E69F00"/><rect x="117" y="513" width="1" height="7" fill="#E69F00"/><rect x="176" y="490" width="7" height="1" fill="#E69F00"/><rect x="176" y="496" width="7" height="1" fill="#E69F00"/><rect x="176" y="490" width="1" height="7" fill="#E69F00"/><rect x="182" y="490" width="1" height="7" fill="#E69F00"/><rect x="241" y="467" width="7" height="1" fill="#E69F00"/><rect x="241" y="473" width="7" height="1" fill="#E69F00"/><rect x="241" y="467" width="1" height="7" fill="#E69F00"/><rect x="247" y="467" width="1" height="7" fill="#E69F00"/><rect x="306" y="448" width="7" height="1" fill="#E69F00"/><rect x="306" y="454" width="7" height="1" fill="#E69F00"/><rect x="306" y="448" width="1" height="7" fill="#E69F00"/><rect x="312" y="448" width="1" height="7" fill="#E69F00"/><rect x="371" y="429" width="7" height="1" fill="#E69F00"/><rect x="371" y="435" width="7" height="1" fill="#E69F00"/><rect x="371" y="429" width="1" height="7" fill="#E69F00"/><rect x="377" y="429" width="1" height="7" fill="#E69F00"/><rect x="436" y="409" width="7" height="1" fill="#E69F00"/><rect x="436" y="415" width="7" height="1" fill="#E69F00"/><rect x="436" y="409" width="1" height="7" fill="#E69F00"/><rect x="442" y="409" width="1" height="7" fill="#E69F00"/><rect x="501" y="384" width="7" height="1" fill="#E69F00"/><rect x="501" y="390" width="7" height="1" fill="#E69F00"/><rect x="501" y="384" width="1" height="7" fill="#E69F00"/><rect x="507" y="384" width="1" height="7" fill="#E69F00"/><rect x="566" y="373" width="7" height="1" fill="#E69F00"/><rect x="566" y="379" width="7" height="1" fill="#E69F00"/><rect x="566" y="373" width="1" height="7" fill="#E69F00"/><rect x="572" y="373" width="1" height="7" fill="#E69F00"/>
<text class="l" x="138" y="157" textLength="42.8" lengthAdjust="spacing">5 byte</text>
<rect x="194" y="153" width="47" height="1" fill="#F0E442"/><rect x="214" y="150" width="7" height="7" fill="#F0E442"/>
<path d="M566 404h4v1h-4zM560 405h6v1h-6zM553 406h7v1h-7zM547 407h6v1h-6zM540 408h7v1h-7zM534 409h6v1h-6zM527 410h7v1h-7zM521 411h6v1h-6zM514 412h7v1h-7zM508 413h6v1h-6zM503 414h5v1h-5zM499 415h4v1h-4zM495 416h4v1h-4zM491 417h4v1h-4zM487 418h4v1h-4zM483 419h4v1h-4zM480 420h3v1h-3zM476 421h4v1h-4zM472 422h4v1h-4zM468 423h4v1h-4zM464 424h4v1h-4zM461 425h3v1h-3zM457 426h4v1h-4zM453 427h4v1h-4zM449 428h4v1h-4zM445 429h4v1h-4zM441 430h4v1h-4zM438 431h3v1h-3zM435 432h3v1h-3zM432 433h3v1h-3zM429 434h3v1h-3zM426 435h3v1h-3zM423 436h3v1h-3zM420 437h3v1h-3zM417 438h3v1h-3zM414 439h3v1h-3zM411 440h3v1h-3zM408 441h3v1h-3zM406 442h2v1h-2zM403 443h3v1h-3zM400 444h3v1h-3zM397 445h3v1h-3zM394 446h3v1h-3zM391 447h3v1h-3zM388 448h3v1h-3zM385 449h3v1h-3zM382 450h3v1h-3zM379 451h3v1h-3zM376 452h3v1h-3zM372 453h4v1h-4zM368 454h4v1h-4zM364 455h4v1h-4zM360 456h4v1h-4zM356 457h4v1h-4zM352 458h4v1h-4zM348 459h4v1h-4zM344 460h4v1h-4zM340 461h4v1h-4zM336 462h4v1h-4zM332 463h4v1h-4zM328 464h4v1h-4zM324 465h4v1h-4zM320 466h4v1h-4zM316 467h4v1h-4zM312 468h4v1h-4zM307 469h5v1h-5zM303 470h4v1h-4zM298 471h5v1h-5zM293 472h5v1h-5zM289 473h4v1h-4zM284 474h5v1h-5zM279 475h5v1h-5zM275 476h4v1h-4zM270 477h5v1h-5zM265 478h5v1h-5zM261 479h4v1h-4zM256 480h5v1h-5zM251 481h5v1h-5zM247 482h4v1h-4zM243 483h4v1h-4zM239 484h4v1h-4zM235 485h4v1h-4zM232 486h3v1h-3zM228 487h4v1h-4zM225 488h3v1h-3zM221 489h4v1h-4zM217 490h4v1h-4zM214 491h3v1h-3zM210 492h4v1h-4zM207 493h3v1h-3zM203 494h4v1h-4zM199 495h4v1h-4zM196 496h3v1h-3zM192 497h4v1h-4zM189 498h3v1h-3zM185 499h4v1h-4zM181 500h4v1h-4zM178 501h3v1h-3zM174 502h4v1h-4zM171 503h3v1h-3zM168 504h3v1h-3zM164 505h4v1h-4zM161 506h3v1h-3zM157 507h4v1h-4zM154 508h3v1h-3zM150 509h4v1h-4zM147 510h3v1h-3zM144 511h3v1h-3zM140 512h4v1h-4zM137 513h3v1h-3zM133 514h4v1h-4zM130 515h3v1h-3zM126 516h4v1h-4zM123 517h3v1h-3zM120 518h3v1h-3zM116 519h4v1h-4zM114 520h2v1h-2z" fill="#F0E442"/>
<rect x="111" y="517" width="7" height="7" fill="#F0E442"/><rect x="176" y="498" width="7" height="7" fill="#F0E442"/><rect x="241" y="480" width="7" height="7" fill="#F0E442"/><rect x="306" y="466" width="7" height="7" fill="#F0E442"/><rect x="371" y="450" width="7" height="7" fill="#F0E442"/><rect x="436" y="428" width="7" height="7" fill="#F0E442"/><rect x="501" y="411" width="7" height="7" fill="#F0E442"/><rect x="566" y="401" width="7" height="7" fill="#F0E442"/>
<rect x="114" y="61" width="456" height="1" fill="#000"/><rect x="114" y="539" width="456" height="1" fill="#000"/><rect x="114" y="61" width="1" height="479" fill="#000"/><rect x="569" y="61" width="1" height="479" fill="#000"/>
<rect x="179" y="533" width="1" height="6" fill="#000"/><rect x="179" y="62" width="1" height="6" fill="#000"/><rect x="244" y="533" width="1" height="6" fill="#000"/><rect x="244" y="62" width="1" height="6" fill="#000"/><rect x="309" y="533" width="1" height="6" fill="#000"/><rect x="309" y="62" width="1" height="6" fill="#000"/><rect x="374" y="533" width="1" height="6" fill="#000"/><rect x="374" y="62" width="1" height="6" fill="#000"/><rect x="439" y="533" width="1" height="6" fill="#000"/><rect x="439" y="62" width="1" height="6" fill="#000"/><rect x="504" y="533" width="1" height="6" fill="#000"/><rect x="504" y="62" width="1" height="6" fill="#000"/><rect x="115" y="452" width="6" height="1" fill="#000"/><rect x="563" y="452" width="6" height="1" fill="#000"/><rect x="115" y="365" width="6" height="1" fill="#000"/><rect x="563" y="365" width="6" height="1" fill="#000"/><rect x="115" y="278" width="6" height="1" fill="#000"/><rect x="563" y="278" width="6" height="1" fill="#000"/><rect x="115" y="191" width="6" height="1" fill="#000"/><rect x="563" y="191" width="6" height="1" fill="#000"/><rect x="115" y="104" width="6" height="1" fill="#000"/><rect x="563" y="104" width="6" height="1" fill="#000"/>
</g>
</svg></body></html>
